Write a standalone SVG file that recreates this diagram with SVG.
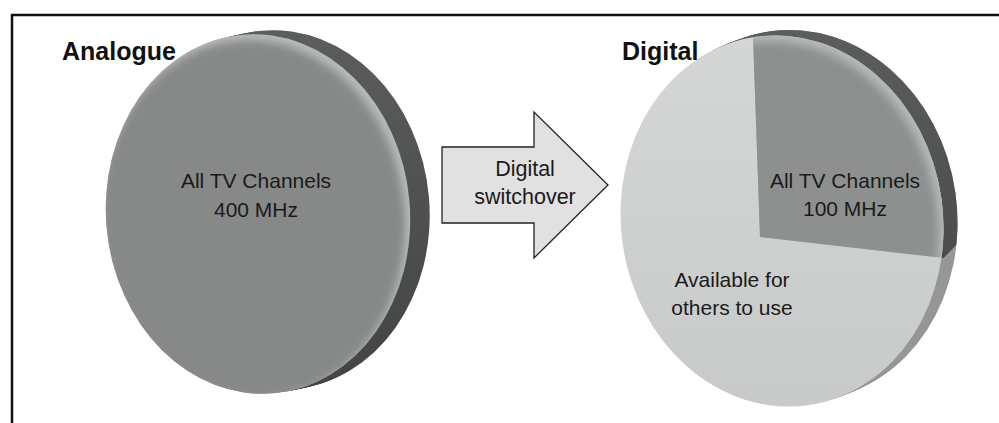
<svg xmlns="http://www.w3.org/2000/svg" xmlns:xlink="http://www.w3.org/1999/xlink" width="999" height="423" viewBox="0 0 999 423">
  <defs>
    <style>
      .frame{stroke:#111;stroke-width:2.5;fill:none}
      .title{font-family:"Liberation Sans",Arial,Helvetica,sans-serif;font-weight:bold;font-size:25px;fill:#111}
      .lbl{font-family:"Liberation Sans",Arial,Helvetica,sans-serif;font-size:21px;fill:#1a1a1a;text-anchor:middle}
      .arrowTxt{font-family:"Liberation Sans",Arial,Helvetica,sans-serif;font-size:21.5px;fill:#1a1a1a;text-anchor:middle}
    </style>
    <!-- disc faces -->
    <ellipse id="fL" cx="258" cy="214" rx="152" ry="180" transform="rotate(-5 258 214)"/>
    <ellipse id="fR" cx="782" cy="221" rx="161" ry="186" transform="rotate(-8 782 221)"/>
    <clipPath id="clipL"><use href="#fL"/></clipPath>
    <clipPath id="clipR"><use href="#fR"/></clipPath>
    <clipPath id="sliceR"><polygon points="760,237 751.7,0 1000,0 1000,264.5"/></clipPath>
    <clipPath id="rimDarkR"><polygon points="700,0 1000,0 1000,230 957,244 943,258 760,237"/></clipPath>
    <filter id="soft" x="-20%" y="-20%" width="140%" height="140%">
      <feGaussianBlur stdDeviation="4"/>
    </filter>
    <linearGradient id="rimShade" x1="0" y1="0" x2="0" y2="1">
      <stop offset="0" stop-color="#5c5e5e"/>
      <stop offset="1" stop-color="#434545"/>
    </linearGradient>
    <linearGradient id="lightFace" x1="0" y1="0" x2="0" y2="1">
      <stop offset="0" stop-color="#d5d7d7"/>
      <stop offset="1" stop-color="#c8caca"/>
    </linearGradient>
    <!-- rim: the face swept sideways -->
    <g id="rimL">
      <use href="#fL" transform="translate(2.5,-0.5)"/>
      <use href="#fL" transform="translate(5,-1)"/>
      <use href="#fL" transform="translate(7.5,-1.5)"/>
      <use href="#fL" transform="translate(10,-2)"/>
      <use href="#fL" transform="translate(12.5,-2.5)"/>
      <use href="#fL" transform="translate(15,-3)"/>
      <use href="#fL" transform="translate(17.5,-3.5)"/>
      <use href="#fL" transform="translate(19.5,-4)"/>
    </g>
    <g id="rimR">
      <use href="#fR" transform="translate(2,-0.8)"/>
      <use href="#fR" transform="translate(4,-1.6)"/>
      <use href="#fR" transform="translate(6,-2.4)"/>
      <use href="#fR" transform="translate(8,-3.2)"/>
      <use href="#fR" transform="translate(10,-4)"/>
      <use href="#fR" transform="translate(12,-4.8)"/>
      <use href="#fR" transform="translate(14,-5.5)"/>
    </g>
  </defs>

  <rect width="999" height="423" fill="#fff"/>

  <!-- frame (top and left edges) -->
  <path class="frame" d="M12,423 V15 H999"/>

  <!-- Analogue disc -->
  <g id="disc-analogue">
    <use href="#rimL" fill="url(#rimShade)"/>
    <g clip-path="url(#clipL)">
      <rect x="100" y="30" width="320" height="370" fill="#b9bbbb"/>
      <use href="#fL" transform="translate(-5,6)" fill="#878989" filter="url(#soft)"/>
    </g>
    <text class="lbl" x="256" y="188">All TV Channels</text>
    <text class="lbl" x="256" y="217">400 MHz</text>
  </g>

  <!-- Digital disc -->
  <g id="disc-digital">
    <use href="#rimR" fill="#959797"/>
    <g clip-path="url(#rimDarkR)">
      <use href="#rimR" fill="url(#rimShade)"/>
    </g>
    <g clip-path="url(#clipR)">
      <rect x="610" y="30" width="350" height="385" fill="url(#lightFace)"/>
      <g clip-path="url(#sliceR)">
        <rect x="740" y="20" width="220" height="260" fill="#b6b8b8"/>
        <use href="#fR" transform="translate(-5,6)" fill="#8e9090" filter="url(#soft)"/>
      </g>
    </g>
    <text class="lbl" x="845" y="188">All TV Channels</text>
    <text class="lbl" x="845" y="216">100 MHz</text>
    <text class="lbl" x="732" y="287">Available for</text>
    <text class="lbl" x="732" y="315">others to use</text>
  </g>

  <!-- connector: switchover arrow -->
  <g id="connectors">
    <path d="M442,147 H534 V112 L608,185 L534,258 V223 H442 Z" fill="#e1e1e1" stroke="#222" stroke-width="1.3" stroke-linejoin="miter"/>
    <text class="arrowTxt" x="525" y="176">Digital</text>
    <text class="arrowTxt" x="525" y="204">switchover</text>
  </g>

  <!-- titles -->
  <g id="titles">
    <text class="title" x="62" y="60">Analogue</text>
    <text class="title" x="622" y="60">Digital</text>
  </g>
</svg>
